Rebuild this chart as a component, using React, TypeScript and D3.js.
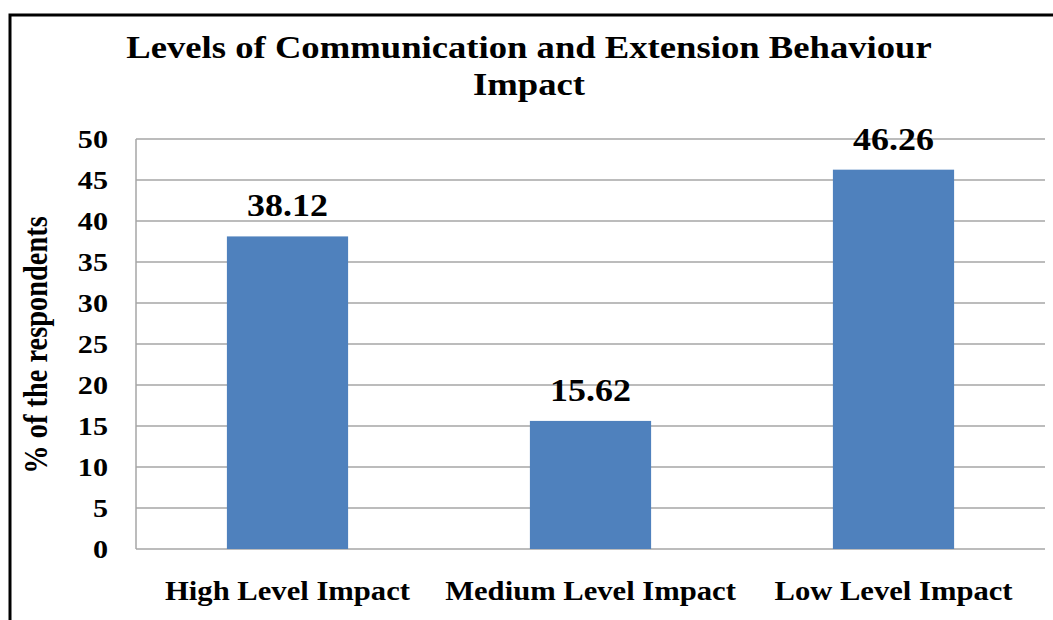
import React, { useEffect, useRef } from 'react';
import * as d3 from 'd3';

const categories = ['High Level Impact', 'Medium Level Impact', 'Low Level Impact'];
const values = [38.12, 15.62, 46.26];
const yTicks = [0, 5, 10, 15, 20, 25, 30, 35, 40, 45, 50];
const titleLines = ['Levels of Communication and Extension Behaviour', 'Impact'];
const yLabel = '% of the respondents';

const App: React.FC = () => {
  const ref = useRef<SVGSVGElement | null>(null);

  useEffect(() => {
    if (!ref.current) return;
    const root = d3.select(ref.current);
    root.selectAll('*').remove();

    const width = 1053;
    const height = 620;
    const margin = { top: 139, right: 8, bottom: 71, left: 136 };
    const innerW = width - margin.left - margin.right;
    const innerH = height - margin.top - margin.bottom;
    const font = "'Liberation Serif', 'Times New Roman', serif";
    const sx = 1.16; // the source picture is stretched sideways a bit

    root.attr('width', width).attr('height', height);
    root.append('rect').attr('width', width).attr('height', height).attr('fill', '#fff');

    // outer frame (top and left edges only visible)
    root.append('path')
      .attr('d', `M10,${height} L10,15 L${width},15`)
      .attr('fill', 'none')
      .attr('stroke', '#000')
      .attr('stroke-width', 3);

    // title
    root.selectAll('.title')
      .data(titleLines)
      .enter()
      .append('text')
      .attr('class', 'title')
      .attr('transform', (d, i) => `translate(529,${58 + i * 37}) scale(${sx},1)`)
      .attr('text-anchor', 'middle')
      .attr('font-family', font)
      .attr('font-weight', 'bold')
      .attr('font-size', 31.6)
      .text((d) => d);

    const g = root.append('g').attr('transform', `translate(${margin.left},${margin.top})`);

    const x = d3.scaleBand().domain(categories).range([0, innerW]).paddingInner(0.6).paddingOuter(0.3);
    const y = d3.scaleLinear().domain([0, 50]).range([innerH, 0]);

    // gridlines
    g.selectAll('.grid')
      .data(yTicks)
      .enter()
      .append('line')
      .attr('class', 'grid')
      .attr('x1', 0)
      .attr('x2', innerW)
      .attr('y1', (d) => y(d))
      .attr('y2', (d) => y(d))
      .attr('stroke', '#a6a6a6')
      .attr('stroke-width', 1.5);

    g.append('line')
      .attr('x1', 0)
      .attr('x2', 0)
      .attr('y1', 0)
      .attr('y2', innerH)
      .attr('stroke', '#a6a6a6')
      .attr('stroke-width', 1.5);

    // y tick labels
    g.selectAll('.ytick')
      .data(yTicks)
      .enter()
      .append('text')
      .attr('class', 'ytick')
      .attr('transform', (d) => `translate(-28,${y(d)}) scale(${sx},1)`)
      .attr('dy', '0.35em')
      .attr('text-anchor', 'end')
      .attr('font-family', font)
      .attr('font-weight', 'bold')
      .attr('font-size', 26)
      .text((d) => d);

    // bars
    g.selectAll('.bar')
      .data(values)
      .enter()
      .append('rect')
      .attr('class', 'bar')
      .attr('x', (d, i) => x(categories[i]) as number)
      .attr('y', (d) => y(d))
      .attr('width', x.bandwidth())
      .attr('height', (d) => innerH - y(d))
      .attr('fill', '#4f81bd');

    // value labels
    g.selectAll('.val')
      .data(values)
      .enter()
      .append('text')
      .attr('class', 'val')
      .attr('transform', (d, i) =>
        `translate(${(x(categories[i]) as number) + x.bandwidth() / 2},${y(d) - 20}) scale(${sx},1)`)
      .attr('text-anchor', 'middle')
      .attr('font-family', font)
      .attr('font-weight', 'bold')
      .attr('font-size', 31)
      .text((d) => d.toFixed(2));

    // category labels
    g.selectAll('.cat')
      .data(categories)
      .enter()
      .append('text')
      .attr('class', 'cat')
      .attr('transform', (d) =>
        `translate(${(x(d) as number) + x.bandwidth() / 2},${innerH + 51}) scale(${sx},1)`)
      .attr('text-anchor', 'middle')
      .attr('font-family', font)
      .attr('font-weight', 'bold')
      .attr('font-size', 26.4)
      .text((d) => d);

    // y axis label
    root.append('text')
      .attr('transform', `translate(47,345) scale(${sx},1) rotate(-90)`)
      .attr('text-anchor', 'middle')
      .attr('font-family', font)
      .attr('font-weight', 'bold')
      .attr('font-size', 28.4)
      .text(yLabel);
  }, []);

  return <svg ref={ref} style={{ position: 'absolute', left: 0, top: 0 }}></svg>;
};

export default App;
